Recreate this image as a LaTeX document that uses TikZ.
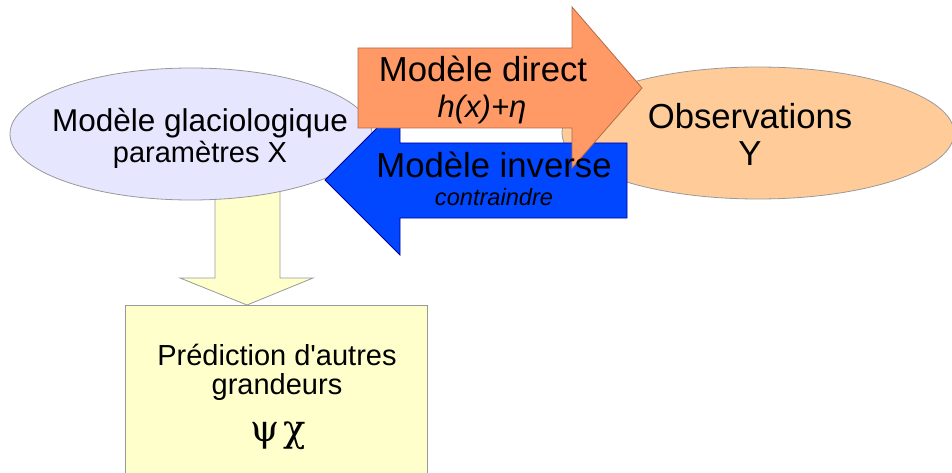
\documentclass[tikz,border=0pt]{standalone}
\usepackage{fontspec}
\setmainfont{Liberation Sans}
\newfontfamily\greekfont{DejaVu Serif}
\usetikzlibrary{shapes.geometric}
\definecolor{lav}{HTML}{E6E6FF}
\definecolor{peach}{HTML}{FFCC99}
\definecolor{orng}{HTML}{FF9966}
\definecolor{blu}{HTML}{0047FF}
\definecolor{yel}{HTML}{FFFFCC}
\definecolor{edge}{HTML}{999999}
\tikzset{
  ell/.style={ellipse, draw=edge, line width=0.8pt, inner sep=0pt},
  txt/.style={anchor=base, inner sep=0pt, text=black},
  shapeline/.style={line width=0.8pt, line join=miter}
}
\begin{document}
\begin{tikzpicture}[x=1pt,y=-1pt]
\clip (0,0) rectangle (952,473);
% prediction box and down arrow
\node[draw=edge, fill=yel, line width=0.8pt, minimum width=302pt, minimum height=200pt, anchor=north west, inner sep=0pt] (pred) at (125,305) {};
\path[shapeline, draw=edge, fill=yel] (215,185) -- (280,185) -- (280,278) -- (313,278) -- (247,305) -- (180,278) -- (215,278) -- cycle;
% ellipses
\node[ell, fill=lav, minimum width=362pt, minimum height=132pt] (glac) at (191,134) {};
\node[ell, fill=peach, minimum width=392pt, minimum height=132pt] (obs) at (758,133) {};
% big arrows
\path[shapeline, draw=blue!60!black, fill=blu] (627,143) -- (400,143) -- (400,105) -- (325,180) -- (400,255) -- (400,218) -- (627,218) -- cycle;
\path[shapeline, draw=orng!70!black, fill=orng] (358,48) -- (572,48) -- (572,7) -- (642,88) -- (572,168) -- (572,128) -- (358,128) -- cycle;
% texts
\node[txt, font=\fontsize{31.5}{36}\selectfont] (g1) at (200,132) {Modèle glaciologique};
\node[txt, font=\fontsize{29}{34}\selectfont] (g2) at (200,163) {paramètres X};
\node[txt, font=\fontsize{34.7}{40}\selectfont] (o1) at (750,129) {Observations};
\node[txt, font=\fontsize{34.7}{40}\selectfont] (o2) at (750,165) {Y};
\node[txt, font=\fontsize{34.7}{40}\selectfont] (d1) at (483,82) {Modèle direct};
\node[txt, font=\fontsize{31}{36}\selectfont\itshape] (d2) at (482,118) {h(x)+η};
\node[txt, font=\fontsize{34.7}{40}\selectfont] (i1) at (494,178) {Modèle inverse};
\node[txt, font=\fontsize{23.6}{28}\selectfont\itshape] (i2) at (494,205) {contraindre};
\node[txt, font=\fontsize{29}{34}\selectfont] (p1) at (277,365) {Prédiction d\textquotesingle autres};
\node[txt, font=\fontsize{29}{34}\selectfont] (p2) at (277,394) {grandeurs};
\node[txt, font=\fontsize{37}{42}\selectfont\greekfont] (p3) at (278,441) {ψ\kern0.1em χ};
\end{tikzpicture}
\end{document}
